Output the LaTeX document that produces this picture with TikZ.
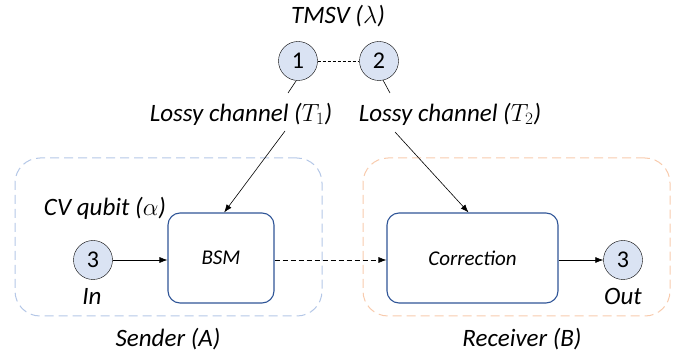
\documentclass[tikz,border=0pt]{standalone}
\usepackage{fontspec}
\setmainfont{Carlito}
\usetikzlibrary{arrows.meta}

\definecolor{qubitfill}{HTML}{DAE3F3}
\definecolor{procblue}{HTML}{2F5597}
\definecolor{senderblue}{HTML}{B4C7E7}
\definecolor{receiverorange}{HTML}{F8CBAD}

\tikzset{
  qubit/.style = {circle, draw, fill = qubitfill, minimum size = 39pt, inner sep = 0pt, font = \fontsize{24}{26}\selectfont},
  proc/.style = {draw = procblue, line width = 1.1pt, rounded corners = 12pt, font = \fontsize{21}{24}\selectfont\itshape},
  party/.style = {dashed, dash pattern = on 9pt off 5pt, line width = 1pt, rounded corners = 25pt},
  lbl/.style = {font = \fontsize{25}{28}\selectfont\itshape, inner sep = 1pt},
  arr/.style = {-{Latex[length = 8pt, width = 6pt]}, line width = 0.6pt},
}

\begin{document}
\begin{tikzpicture}[x = 1pt, y = -1pt]
			\useasboundingbox (0,0) rectangle (681,358);

			% sender and receiver areas
			\node [party, draw = senderblue, minimum width = 307pt, minimum height = 158pt] (sender) at (168.5,237) {};
			\node [party, draw = receiverorange, minimum width = 307pt, minimum height = 158pt] (receiver) at (516.5,237) {};
			\node [lbl] (senderlbl) at (168,339) {Sender (A)};
			\node [lbl] (receiverlbl) at (522,339) {Receiver (B)};

			% entangled pair
			\node [lbl] (tmsv) at (338,16) {TMSV ($\lambda$)};
			\node [qubit] (q1) at (298,61) {1};
			\node [qubit] (q2) at (379,61) {2};
			\draw [dashed, dash pattern = on 3pt off 2pt] (q1) -- (q2);

			% lossy channels
			\node [lbl] (ch1) at (241,114) {Lossy channel ($T_1$)};
			\node [lbl] (ch2) at (450,114) {Lossy channel ($T_2$)};
			\coordinate (ch1top) at (288,93);
			\coordinate (ch2top) at (390,93);
			\coordinate (ch1bot) at (285,131);
			\coordinate (ch2bot) at (395,132);
			\draw [line width = 0.6pt] (q1.265) -- (ch1top);
			\draw [line width = 0.6pt] (q2.282) -- (ch2top);

			% processing
			\node [proc, minimum width = 106pt, minimum height = 90pt] (bsm) at (221,258) {BSM};
			\node [proc, minimum width = 171pt, minimum height = 90pt] (corr) at (472.5,258) {Correction};
			\draw [arr] (ch1bot) -- (bsm.86);
			\draw [arr] (ch2bot) -- (corr.95);

			% input and output
			\node [lbl] (cvq) at (105,208) {CV qubit ($\alpha$)};
			\node [qubit] (qin) at (93,260) {3};
			\node [qubit] (qout) at (623,260) {3};
			\node [lbl] (inlbl) at (92,296) {In};
			\node [lbl] (outlbl) at (623,296) {Out};
			\draw [arr] (qin) -- (bsm.west |- qin);
			\draw [arr, dashed, dash pattern = on 5pt off 3pt] (bsm.east |- qin) -- (corr.west |- qin);
			\draw [arr] (corr.east |- qout) -- (qout);
		\end{tikzpicture}
\end{document}
